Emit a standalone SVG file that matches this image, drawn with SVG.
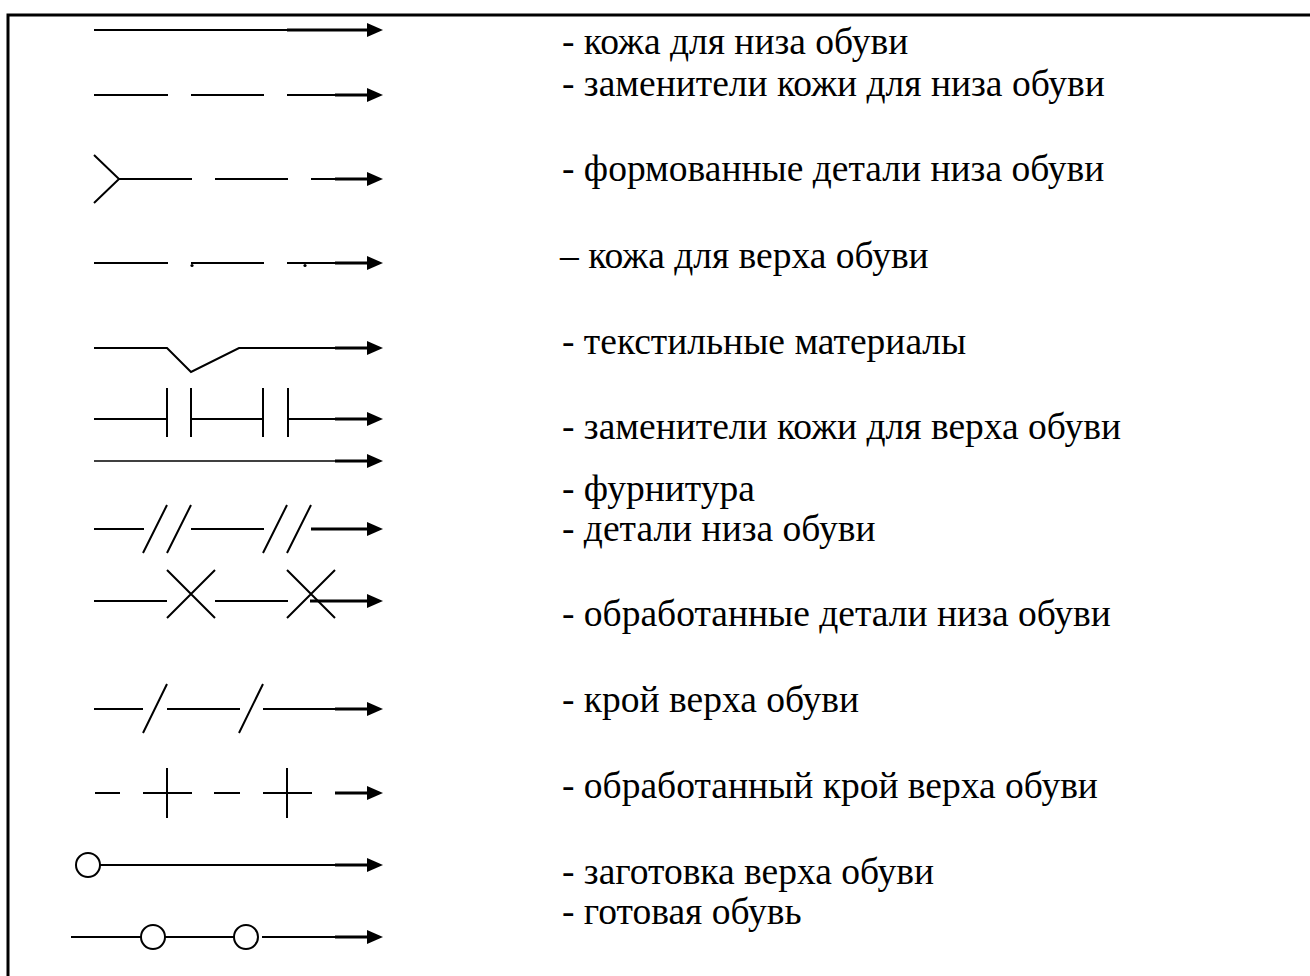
<svg xmlns="http://www.w3.org/2000/svg" width="1310" height="976" viewBox="0 0 1310 976">
<defs>
<marker id="ah" markerUnits="userSpaceOnUse" markerWidth="16" markerHeight="14" refX="1" refY="7" orient="auto" viewBox="0 0 16 14">
<path d="M0,0 L16,7 L0,14 z" fill="#000"/>
</marker>
<style>
.ln{stroke:#000;stroke-width:2;fill:none}
.th{stroke:#000;stroke-width:1.3;fill:none}
.sh{stroke:#000;stroke-width:3;fill:none;marker-end:url(#ah)}
.ci{stroke:#000;stroke-width:2;fill:#fff}
.dot{fill:#000}
text{font-family:"Liberation Serif","Times New Roman",serif;font-size:37.5px;fill:#000}
</style>
</defs>
<rect width="1310" height="976" fill="#fff"/>
<path d="M8,976 V15 H1310" stroke="#000" stroke-width="3" fill="none"/>

<g id="connectors">
<g id="s1"><path class="ln" d="M94,30 H290"/><path class="sh" d="M287,30 H368"/></g>
<g id="s2"><path class="ln" d="M94,95 H168 M191,95 H264 M287,95 H338"/><path class="sh" d="M335,95 H368"/></g>
<g id="s3"><path class="ln" d="M94,155 L119,179 L94,203 M119,179 H192 M215,179 H288 M311,179 H338"/><path class="sh" d="M335,179 H368"/></g>
<g id="s4"><path class="ln" d="M94,263 H168 M191,263 H264 M287,263 H338"/><circle class="dot" cx="192" cy="265.5" r="1.6"/><circle class="dot" cx="305" cy="265.5" r="1.6"/><path class="sh" d="M335,263 H368"/></g>
<g id="s5"><path class="ln" d="M94,348 H167 L191,372 L239,348 H338"/><path class="sh" d="M335,348 H368"/></g>
<g id="s6"><path class="ln" d="M94,419 H167 M167,388 V437 M191,388 V437 M191,419 H263 M263,388 V437 M288,388 V437 M288,419 H338"/><path class="sh" d="M335,419 H368"/></g>
<g id="s7"><path class="th" d="M94,461 H338"/><path class="sh" d="M335,461 H368"/></g>
<g id="s8"><path class="ln" d="M94,529 H144 M143,553 L167,505 M167,553 L191,505 M191,529 H264 M263,553 L287,505 M287,553 L311,505"/><path class="sh" d="M311,529 H368"/></g>
<g id="s9"><path class="ln" d="M94,601 H167 M167,570 L215,618 M167,618 L215,570 M215,601 H288 M287,570 L335,618 M287,618 L335,570"/><path class="sh" d="M310,601 H368"/></g>
<g id="s10"><path class="ln" d="M94,709 H143 M143,733 L167,684 M167,709 H240 M239,733 L263,684 M263,709 H338"/><path class="sh" d="M335,709 H368"/></g>
<g id="s11"><path class="ln" d="M95,793 H120 M143,793 H192 M167,768 V818 M214,793 H240 M263,793 H312 M287,768 V818"/><path class="sh" d="M335,793 H368"/></g>
<g id="s12"><path class="ln" d="M100,865 H338"/><circle class="ci" cx="88" cy="865" r="12"/><path class="sh" d="M335,865 H368"/></g>
<g id="s13"><path class="ln" d="M71,937 H141 M165,937 H234 M262,937 H338"/><circle class="ci" cx="153" cy="937" r="12"/><circle class="ci" cx="246" cy="937" r="12"/><path class="sh" d="M335,937 H368"/></g>
</g>

<g id="labels">
<text x="562" y="54">- кожа для низа обуви</text>
<text x="562" y="96">- заменители кожи для низа обуви</text>
<text x="562" y="181">- формованные детали низа обуви</text>
<text x="560" y="268">– кожа для верха обуви</text>
<text x="562" y="354">- текстильные материалы</text>
<text x="562" y="439">- заменители кожи для верха обуви</text>
<text x="562" y="501">- фурнитура</text>
<text x="562" y="541">- детали низа обуви</text>
<text x="562" y="626">- обработанные детали низа обуви</text>
<text x="562" y="712">- крой верха обуви</text>
<text x="562" y="798">- обработанный крой верха обуви</text>
<text x="562" y="884">- заготовка верха обуви</text>
<text x="562" y="924">- готовая обувь</text>
</g>
</svg>
